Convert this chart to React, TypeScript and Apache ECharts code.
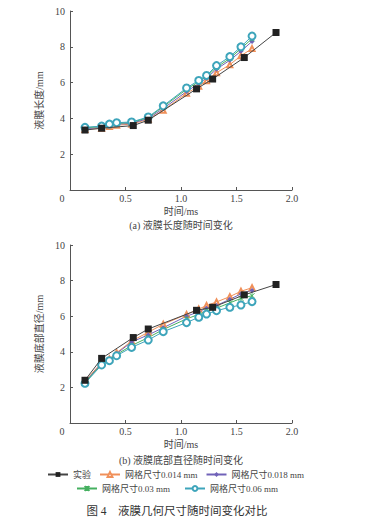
import React, { useEffect, useRef } from "react";
import * as echarts from "echarts";

const simTime = [0.135, 0.285, 0.355, 0.42, 0.555, 0.705, 0.84, 1.05, 1.16, 1.23, 1.32, 1.44, 1.54, 1.64];
const expTime = [0.135, 0.285, 0.57, 0.705, 1.14, 1.285, 1.57, 1.856];

const expLen = [3.35, 3.45, 3.6, 3.9, 5.65, 6.2, 7.4, 8.8];
const len014 = [3.38, 3.45, 3.55, 3.62, 3.68, 3.95, 4.45, 5.4, 5.8, 6.1, 6.55, 7.0, 7.5, 7.9];
const len018 = [3.42, 3.5, 3.6, 3.68, 3.72, 4.0, 4.55, 5.5, 5.95, 6.25, 6.75, 7.25, 7.75, 8.3];
const len003 = [3.47, 3.55, 3.65, 3.72, 3.77, 4.05, 4.65, 5.62, 6.05, 6.35, 6.85, 7.35, 7.9, 8.45];
const len006 = [3.5, 3.57, 3.68, 3.76, 3.8, 4.08, 4.7, 5.7, 6.12, 6.4, 6.95, 7.45, 8.0, 8.6];

const expDia = [2.4, 3.63, 4.8, 5.28, 6.33, 6.5, 7.2, 7.78];
const dia014 = [2.35, 3.4, 3.6, 3.95, 4.6, 5.1, 5.55, 6.1, 6.4, 6.6, 6.8, 7.1, 7.4, 7.6];
const dia018 = [2.3, 3.35, 3.55, 3.9, 4.55, 4.95, 5.35, 6.0, 6.25, 6.45, 6.6, 6.95, 7.25, 7.45];
const dia003 = [2.28, 3.3, 3.55, 3.85, 4.35, 4.8, 5.25, 5.85, 6.1, 6.3, 6.45, 6.75, 7.0, 7.15];
const dia006 = [2.23, 3.26, 3.5, 3.78, 4.25, 4.66, 5.13, 5.64, 5.94, 6.12, 6.31, 6.5, 6.63, 6.82];

const names = ["实验", "网格尺寸0.014 mm", "网格尺寸0.018 mm", "网格尺寸0.03 mm", "网格尺寸0.06 mm"];
const yNames = ["液膜长度/mm", "液膜底部直径/mm"];
const captions = ["(a) 液膜长度随时间变化", "(b) 液膜底部直径随时间变化"];
const figTitle = "图 4　液膜几何尺寸随时间变化对比";

const FONT = '"Liberation Serif", "Noto Sans CJK SC", serif';
const TXT = "#444";

const colors = {
  exp: "#222222",
  c014: "#f0905a",
  c018: "#7062b8",
  c003: "#45b060",
  c006: "#3ea5bb",
};

const xPath = "path://M0,0L10,10M10,0L0,10M5,0L5,10";

function pairs(xs: number[], ys: number[]) {
  return ys.map((y, i) => [xs[i], y]);
}

export default function App() {
  const ref = useRef<HTMLDivElement>(null);
  useEffect(() => {
    if (!ref.current) return;
    const chart = echarts.init(ref.current, undefined, { renderer: "svg" });

    const grids = [
      { left: 70, top: 11, width: 222, height: 179 },
      { left: 70, top: 245, width: 222, height: 178 },
    ];

    const axisLine = { lineStyle: { color: "#555", width: 1 } };

    const xAxes = [0, 1].map((g) => ({
      type: "value",
      gridIndex: g,
      min: 0,
      max: 2,
      interval: 0.5,
      name: "时间/ms",
      nameLocation: "middle",
      nameGap: 16,
      nameTextStyle: { color: TXT, fontFamily: FONT, fontSize: 10 },
      axisLine: { show: true, ...axisLine },
      axisTick: { show: true, inside: true, length: 3, lineStyle: { color: "#555" } },
      splitLine: { show: false },
      axisLabel: {
        color: TXT,
        fontFamily: FONT,
        fontSize: 10,
        margin: 3,
        formatter: (v: number) => (v === 0 ? "{o|0}" : v.toFixed(1)),
        rich: { o: { padding: [0, 16, 0, 0], color: TXT, fontFamily: FONT, fontSize: 10 } },
      },
    }));

    const yAxes = [0, 1].map((g) => ({
      type: "value",
      gridIndex: g,
      min: 0,
      max: 10,
      interval: 2,
      name: yNames[g],
      nameLocation: "middle",
      nameGap: 19,
      nameTextStyle: { color: TXT, fontFamily: FONT, fontSize: 10 },
      axisLine: { show: true, ...axisLine },
      axisTick: { show: true, inside: true, length: 3, lineStyle: { color: "#555" } },
      splitLine: { show: false },
      axisLabel: {
        color: TXT,
        fontFamily: FONT,
        fontSize: 10,
        margin: 5,
        formatter: (v: number) => (v === 0 ? "" : String(v)),
      },
    }));

    const sets = [
      { exp: expLen, s014: len014, s018: len018, s003: len003, s006: len006 },
      { exp: expDia, s014: dia014, s018: dia018, s003: dia003, s006: dia006 },
    ];

    const series: any[] = [];
    sets.forEach((d, g) => {
      const base = { type: "line", xAxisIndex: g, yAxisIndex: g };
      series.push({
        ...base,
        name: names[1],
        data: pairs(simTime, d.s014),
        symbol: "emptyTriangle",
        symbolSize: 5,
        color: colors.c014,
        lineStyle: { width: 1, color: colors.c014 },
      });
      series.push({
        ...base,
        name: names[2],
        data: pairs(simTime, d.s018),
        symbol: "diamond",
        symbolSize: 5,
        color: colors.c018,
        lineStyle: { width: 1, color: colors.c018 },
      });
      series.push({
        ...base,
        name: names[3],
        data: pairs(simTime, d.s003),
        symbol: xPath,
        symbolSize: 5,
        color: colors.c003,
        itemStyle: { color: colors.c003, borderColor: colors.c003, borderWidth: 1 },
        lineStyle: { width: 1, color: colors.c003 },
      });
      series.push({
        ...base,
        name: names[4],
        data: pairs(simTime, d.s006),
        symbol: "emptyCircle",
        symbolSize: 7,
        color: colors.c006,
        itemStyle: { color: colors.c006, borderWidth: 1.1 },
        lineStyle: { width: 1, color: colors.c006 },
      });
      series.push({
        ...base,
        name: names[0],
        data: pairs(expTime, d.exp),
        symbol: "rect",
        symbolSize: 7,
        color: colors.exp,
        lineStyle: { width: 1, color: "#444" },
        z: 5,
      });
    });

    const legendText = { color: TXT, fontFamily: FONT, fontSize: 9 };

    chart.setOption({
      animation: false,
      backgroundColor: "#fff",
      grid: grids,
      xAxis: xAxes,
      yAxis: yAxes,
      series,
      legend: [
        {
          data: names.slice(0, 3),
          top: 470,
          left: 47,
          padding: 0,
          itemWidth: 20,
          itemHeight: 6,
          itemGap: 8,
          textStyle: legendText,
        },
        {
          data: names.slice(3),
          top: 484,
          left: 76,
          padding: 0,
          itemWidth: 20,
          itemHeight: 6,
          itemGap: 14,
          textStyle: legendText,
        },
      ],
      graphic: [
        {
          type: "text",
          x: 181,
          y: 225,
          style: { text: captions[0], textAlign: "center", textVerticalAlign: "middle", fill: TXT, font: `10px ${FONT}` },
        },
        {
          type: "text",
          x: 181,
          y: 460,
          style: { text: captions[1], textAlign: "center", textVerticalAlign: "middle", fill: TXT, font: `10px ${FONT}` },
        },
        {
          type: "text",
          x: 177,
          y: 511,
          style: { text: figTitle, textAlign: "center", textVerticalAlign: "middle", fill: "#333", font: `11.5px ${FONT}` },
        },
      ],
    });
    return () => chart.dispose();
  }, []);

  return <div ref={ref} style={{ position: "fixed", left: 0, top: 0, width: 380, height: 525 }} />;
}
